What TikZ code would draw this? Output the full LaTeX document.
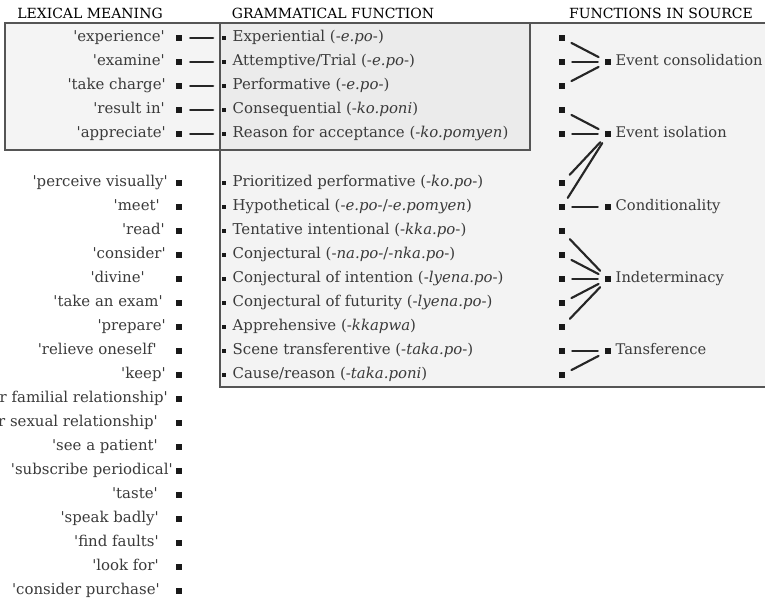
\documentclass[tikz,border=0pt]{standalone}
\usepackage{fontspec}
\setmainfont{DejaVu Serif}[Ligatures=TeXOff]
\usepackage{tikz}
\usetikzlibrary{positioning}
\usepackage{color}

\definecolor{framegray}{HTML}{555555}
\definecolor{lexfill}{HTML}{F4F4F4}
\definecolor{gramfill}{HTML}{EBEBEB}
\definecolor{srcfill}{HTML}{F3F3F3}
\definecolor{textgray}{HTML}{3A3A3A}

\tikzset{
    frame/.style={draw=framegray,line width=0.8pt},
    sq/.style={rectangle,fill=black!90,inner sep=0pt,minimum size=3.8pt},
    smallsq/.style={sq,minimum size=3.2pt},
    head/.style={inner sep=0pt,text=black,font=\fontsize{10.5}{12}\selectfont},
    itemtext/.style={inner sep=0pt,text=textgray,font=\fontsize{11.2}{13}\selectfont,text height=8pt,text depth=2.2pt},
    lexlabel/.style={itemtext,anchor=east},
    srclabel/.style={itemtext,font=\fontsize{11}{13}\selectfont},
    link/.style={line width=1.6pt,draw=black!85,line cap=round},
    lglink/.style={link,shorten <=6.3pt,shorten >=6.3pt},
    srclink/.style={link,shorten <=5.6pt,shorten >=5.6pt}
}

\begin{document}
\begin{tikzpicture}[x=0.75pt,y=-0.75pt]
        \useasboundingbox (0,0) rectangle (765,602);

        % boxes
        \draw[frame,fill=srcfill] (220,23) rectangle (775,387);
        \draw[frame,fill=lexfill] (5,23) rectangle (220,150);
        \draw[frame,fill=gramfill] (220,23) rectangle (530,150);

        % column heads
        \node[head] (hlex) at (90,13) {LEXICAL MEANING};
        \node[head] (hgram) at (333,13) {GRAMMATICAL FUNCTION};
        \node[head] (hsrc) at (661,13) {FUNCTIONS IN SOURCE};

        % lexical meaning
        \node[sq] (l1) at (179,38) {};
        \node[sq] (l2) at (179,62) {};
        \node[sq] (l3) at (179,86) {};
        \node[sq] (l4) at (179,110) {};
        \node[sq] (l5) at (179,134) {};
        \node[sq] (l6) at (179,183) {};
        \node[sq] (l7) at (179,207) {};
        \node[sq] (l8) at (179,231) {};
        \node[sq] (l9) at (179,255) {};
        \node[sq] (l10) at (179,279) {};
        \node[sq] (l11) at (179,303) {};
        \node[sq] (l12) at (179,327) {};
        \node[sq] (l13) at (179,351) {};
        \node[sq] (l14) at (179,375) {};
        \node[sq] (l15) at (179,399) {};
        \node[sq] (l16) at (179,423) {};
        \node[sq] (l17) at (179,447) {};
        \node[sq] (l18) at (179,471) {};
        \node[sq] (l19) at (179,495) {};
        \node[sq] (l20) at (179,519) {};
        \node[sq] (l21) at (179,543) {};
        \node[sq] (l22) at (179,567) {};
        \node[sq] (l23) at (179,591) {};

        \node[lexlabel] (lt1) at (165,38) {'experience'};
        \node[lexlabel] (lt2) at (165,62) {'examine'};
        \node[lexlabel] (lt3) at (166,86) {'take charge'};
        \node[lexlabel] (lt4) at (165,110) {'result in'};
        \node[lexlabel] (lt5) at (166,134) {'appreciate'};
        \node[lexlabel] (lt6) at (168,183) {'perceive visually'};
        \node[lexlabel] (lt7) at (160,207) {'meet'};
        \node[lexlabel] (lt8) at (165,231) {'read'};
        \node[lexlabel] (lt9) at (166,255) {'consider'};
        \node[lexlabel] (lt10) at (145,279) {'divine'};
        \node[lexlabel] (lt11) at (163,303) {'take an exam'};
        \node[lexlabel] (lt12) at (166,327) {'prepare'};
        \node[lexlabel] (lt13) at (157,351) {'relieve oneself'};
        \node[lexlabel] (lt14) at (166,375) {'keep'};
        \node[lexlabel] (lt15) at (168,399) {'enter familial relationship'};
        \node[lexlabel] (lt16) at (158,423) {'enter sexual relationship'};
        \node[lexlabel] (lt17) at (158,447) {'see a patient'};
        \node[lexlabel] (lt18) at (173,471) {'subscribe periodical'};
        \node[lexlabel] (lt19) at (158,495) {'taste'};
        \node[lexlabel] (lt20) at (159,519) {'speak badly'};
        \node[lexlabel] (lt21) at (159,543) {'find faults'};
        \node[lexlabel] (lt22) at (159,567) {'look for'};
        \node[lexlabel] (lt23) at (160,591) {'consider purchase'};

        % grammatical function
        \node[smallsq] (g1) at (224,38) {};
        \node[smallsq] (g2) at (224,62) {};
        \node[smallsq] (g3) at (224,86) {};
        \node[smallsq] (g4) at (224,110) {};
        \node[smallsq] (g5) at (224,134) {};
        \node[smallsq] (g6) at (224,183) {};
        \node[smallsq] (g7) at (224,207) {};
        \node[smallsq] (g8) at (224,231) {};
        \node[smallsq] (g9) at (224,255) {};
        \node[smallsq] (g10) at (224,279) {};
        \node[smallsq] (g11) at (224,303) {};
        \node[smallsq] (g12) at (224,327) {};
        \node[smallsq] (g13) at (224,351) {};
        \node[smallsq] (g14) at (224,375) {};

        \node[itemtext,right=4.5pt of g1] (gt1) {Experiential (-\textit{e.po}-)};
        \node[itemtext,right=4.5pt of g2] (gt2) {Attemptive/Trial (-\textit{e.po}-)};
        \node[itemtext,right=4.5pt of g3] (gt3) {Performative (-\textit{e.po}-)};
        \node[itemtext,right=4.5pt of g4] (gt4) {Consequential (-\textit{ko.poni})};
        \node[itemtext,right=4.5pt of g5] (gt5) {Reason for acceptance (-\textit{ko.pomyen})};
        \node[itemtext,right=4.5pt of g6] (gt6) {Prioritized performative (-\textit{ko.po}-)};
        \node[itemtext,right=4.5pt of g7] (gt7) {Hypothetical (-\textit{e.po}-/-\textit{e.pomyen})};
        \node[itemtext,right=4.5pt of g8] (gt8) {Tentative intentional (-\textit{kka.po}-)};
        \node[itemtext,right=4.5pt of g9] (gt9) {Conjectural (-\textit{na.po}-/-\textit{nka.po}-)};
        \node[itemtext,right=4.5pt of g10] (gt10) {Conjectural of intention (-\textit{lyena.po}-)};
        \node[itemtext,right=4.5pt of g11] (gt11) {Conjectural of futurity (-\textit{lyena.po}-)};
        \node[itemtext,right=4.5pt of g12] (gt12) {Apprehensive (-\textit{kkapwa})};
        \node[itemtext,right=4.5pt of g13] (gt13) {Scene transferentive (-\textit{taka.po}-)};
        \node[itemtext,right=4.5pt of g14] (gt14) {Cause/reason (-\textit{taka.poni})};

        % functions in source
        \node[sq] (s1) at (562,38) {};
        \node[sq] (s2) at (562,62) {};
        \node[sq] (s3) at (562,86) {};
        \node[sq] (s4) at (562,110) {};
        \node[sq] (s5) at (562,134) {};
        \node[sq] (s6) at (562,183) {};
        \node[sq] (s7) at (562,207) {};
        \node[sq] (s8) at (562,231) {};
        \node[sq] (s9) at (562,255) {};
        \node[sq] (s10) at (562,279) {};
        \node[sq] (s11) at (562,303) {};
        \node[sq] (s12) at (562,327) {};
        \node[sq] (s13) at (562,351) {};
        \node[sq] (s14) at (562,375) {};

        \node[sq] (f1) at (608,62) {};
        \node[sq] (f2) at (608,134) {};
        \node[sq] (f3) at (608,207) {};
        \node[sq] (f4) at (608,279) {};
        \node[sq] (f5) at (608,351) {};

        \node[srclabel,right=3.5pt of f1] (ft1) {Event consolidation};
        \node[srclabel,right=3.5pt of f2] (ft2) {Event isolation};
        \node[srclabel,right=3.5pt of f3] (ft3) {Conditionality};
        \node[srclabel,right=3.5pt of f4] (ft4) {Indeterminacy};
        \node[srclabel,right=3.5pt of f5] (ft5) {Tansference};

        % links
        \draw[lglink] (l1) -- (g1);
        \draw[lglink] (l2) -- (g2);
        \draw[lglink] (l3) -- (g3);
        \draw[lglink] (l4) -- (g4);
        \draw[lglink] (l5) -- (g5);

        \draw[srclink] (s1) -- (f1);
        \draw[srclink] (s2) -- (f1);
        \draw[srclink] (s3) -- (f1);
        \draw[srclink] (s4) -- (f2);
        \draw[srclink] (s5) -- (f2);
        \draw[srclink] (s6) -- (f2);
        \draw[srclink] (s7) -- (f2);
        \draw[srclink] (s7) -- (f3);
        \draw[srclink] (s8) -- (f4);
        \draw[srclink] (s9) -- (f4);
        \draw[srclink] (s10) -- (f4);
        \draw[srclink] (s11) -- (f4);
        \draw[srclink] (s12) -- (f4);
        \draw[srclink] (s13) -- (f5);
        \draw[srclink] (s14) -- (f5);
\end{tikzpicture}
\end{document}
